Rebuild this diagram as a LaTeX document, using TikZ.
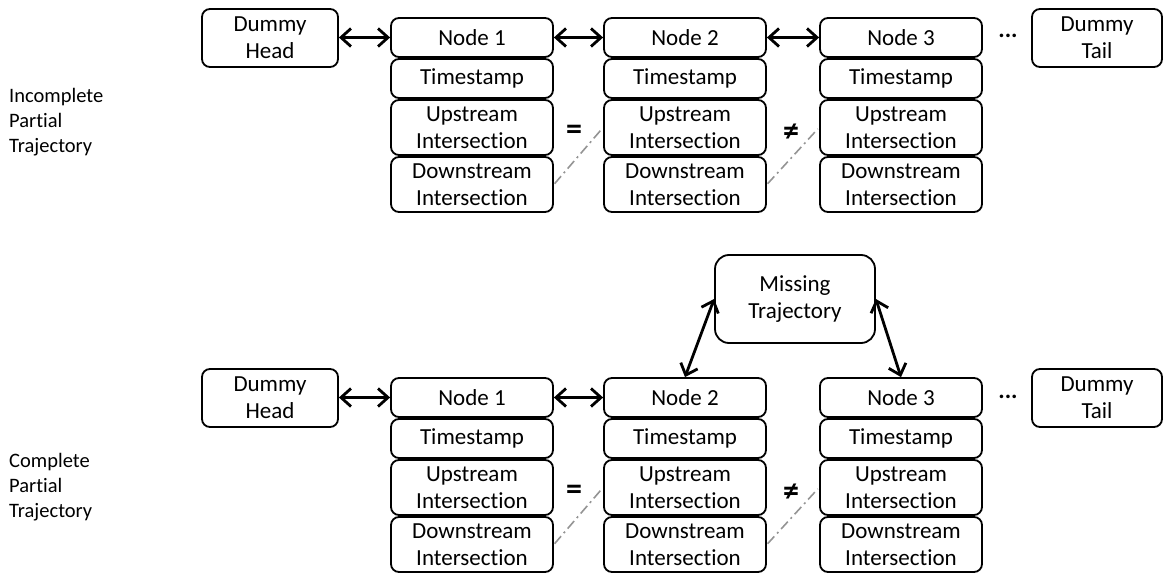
\documentclass[tikz,border=0pt]{standalone}
\usepackage{fontspec}
\setmainfont{Carlito}[Ligatures=NoCommon]
\usetikzlibrary{arrows.meta}
\begin{document}
\begin{tikzpicture}[x=1pt,y=-1pt,
  cell/.style={draw, line width=1.8pt, rounded corners=8pt, inner sep=0pt, align=center,
    minimum width=162pt, font=\fontsize{23}{27}\selectfont},
  dummy/.style={cell, minimum height=58pt},
  dbl/.style={line width=2.8pt, {Straight Barb[length=10pt,width=18pt]}-{Straight Barb[length=10pt,width=18pt]}},
  dd/.style={draw=black!42, line width=1.6pt, dash pattern=on 10pt off 4pt on 2pt off 4pt, shorten >=2pt, shorten <=1pt},
  rel/.style={font=\fontsize{32}{32}\selectfont\bfseries, inner sep=0pt},
  side/.style={anchor=west, align=left, inner sep=0pt, font=\fontsize{20.5}{25}\selectfont}]
\useasboundingbox (0,0) rectangle (1167,575);

\foreach \r/\dy in {t/0,b/360}{
  \foreach \c/\x in {1/472,2/685,3/901}{
    \node[cell, minimum height=39pt] (\r\c-n) at (\x,37.5+\dy) {Node \c};
    \node[cell, minimum height=39pt] (\r\c-t) at (\x,78.5+\dy) {Timestamp};
    \node[cell, minimum height=55pt] (\r\c-u) at (\x,127.5+\dy) {Upstream\\Intersection};
    \node[cell, minimum height=55pt] (\r\c-d) at (\x,184.5+\dy) {Downstream\\Intersection};
  }
  \node[dummy, minimum width=136pt] (\r-head) at (270,38+\dy) {Dummy\\Head};
  \node[dummy, minimum width=130pt] (\r-tail) at (1097,38+\dy) {Dummy\\Tail};
  \node[anchor=base, inner sep=0pt, font=\fontsize{24}{24}\selectfont\bfseries] (\r-dots) at (1008,38+\dy) {...};
  \node[rel] (\r-eq) at (574,132+\dy) {=};
  \node[rel] (\r-ne) at (791,133+\dy) {≠};
}

\foreach \r in {t,b}{
  \draw[dbl] (\r-head.east |- \r1-n.west) -- (\r1-n.west);
  \draw[dbl] (\r1-n.east) -- (\r2-n.west);
  \draw[dd] (\r1-d.east) -- (\r2-u.west);
  \draw[dd] (\r2-d.east) -- (\r3-u.west);
}
\draw[dbl] (t2-n.east) -- (t3-n.west);

\node[cell, minimum width=160pt, minimum height=88pt, rounded corners=14pt] (miss) at (795,299) {Missing\\Trajectory};
\draw[dbl] (miss.west) -- (b2-n.north);
\draw[dbl] (miss.east) -- (b3-n.north);

\node[side] (lab1) at (9,122) {Incomplete\\Partial\\Trajectory};
\node[side] (lab2) at (9,487) {Complete\\Partial\\Trajectory};
\end{tikzpicture}
\end{document}
